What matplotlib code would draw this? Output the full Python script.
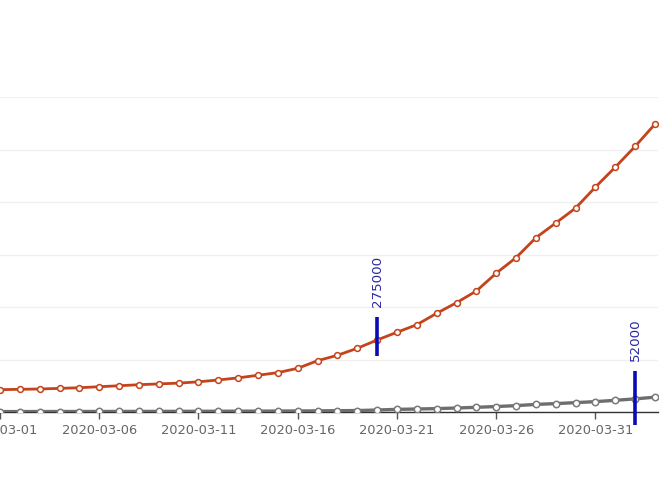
import numpy as np
import matplotlib
matplotlib.use("Agg")
import matplotlib.pyplot as plt
import matplotlib.dates as mdates

dates = np.arange(np.datetime64("2020-03-01"), np.datetime64("2020-04-04"))

confirmed = [85000, 86500, 87600, 90000, 92500, 96300, 100000, 104000,
             107000, 110000, 115000, 122000, 130000, 140000, 150000, 166500,
             195500, 216000, 242700, 274300, 303700, 332600, 376000, 416400,
             461000, 528800, 588000, 664000, 720000, 777000, 857000, 933000,
             1012000, 1097000]
deaths = [1500, 1600, 1700, 1800, 1900, 2000, 2100, 2200, 2300, 2500,
          2700, 2900, 3100, 3300, 3600, 3900, 4300, 5000, 5500, 7600,
          10000, 11400, 12900, 15200, 17900, 20800, 24300, 28900, 32000,
          35700, 39500, 44600, 50000, 56500]

# marked values: date, label, bar bottom, bar top
marks_date = ["2020-03-20", "2020-04-02"]
marks_label = ["275000", "52000"]
marks_lo = [214000, -50000]
marks_hi = [362000, 157000]

fig = plt.figure(figsize=(6.71, 4.92), dpi=100)
W, H = 671, 492
ax = fig.add_axes([0, (H - 412) / H, 658 / W, 315 / H])

x = mdates.date2num(dates.astype("datetime64[D]").astype(object))

ax.plot(x, confirmed, color="#c4431b", lw=2, marker="o", ms=4.2,
        mfc="white", mec="#c4431b", mew=1.1, zorder=3)
ax.plot(x, deaths, color="#6e6e6e", lw=2.4, marker="o", ms=4.6,
        mfc="white", mec="#7a7a7a", mew=1.1, zorder=3)

for d, lab, lo, hi in zip(marks_date, marks_label, marks_lo, marks_hi):
    xd = mdates.date2num(np.datetime64(d).astype(object))
    ax.vlines(xd, lo, hi, color="#0b0bb5", lw=2.6, zorder=4, clip_on=False)
    ax.annotate(lab, (xd, hi), xytext=(0, 7), textcoords="offset points",
                rotation=90, ha="center", va="bottom", fontsize=9.6,
                color="#2a2aa0")

x0 = x[0]
ax.set_xlim(x0 + 0.25, x0 + 33.15)
ax.set_ylim(0, 1200000)
ax.set_yticks(np.arange(0, 1200001, 200000))
ax.yaxis.grid(True, color="#f0f0f0", lw=1)
ax.set_axisbelow(True)
ax.tick_params(axis="y", left=False, labelleft=False)

ax.set_xticks(x[::5])
ax.set_xticklabels([str(d) for d in dates[::5]])
ax.tick_params(axis="x", length=5, width=1, color="#555555", pad=4,
               labelsize=9.4, labelcolor="#666666")

for s in ["top", "right", "left"]:
    ax.spines[s].set_visible(False)
ax.spines["bottom"].set_color("#333333")
ax.spines["bottom"].set_linewidth(1)

fig.savefig("out.png", dpi=100, facecolor="white")
